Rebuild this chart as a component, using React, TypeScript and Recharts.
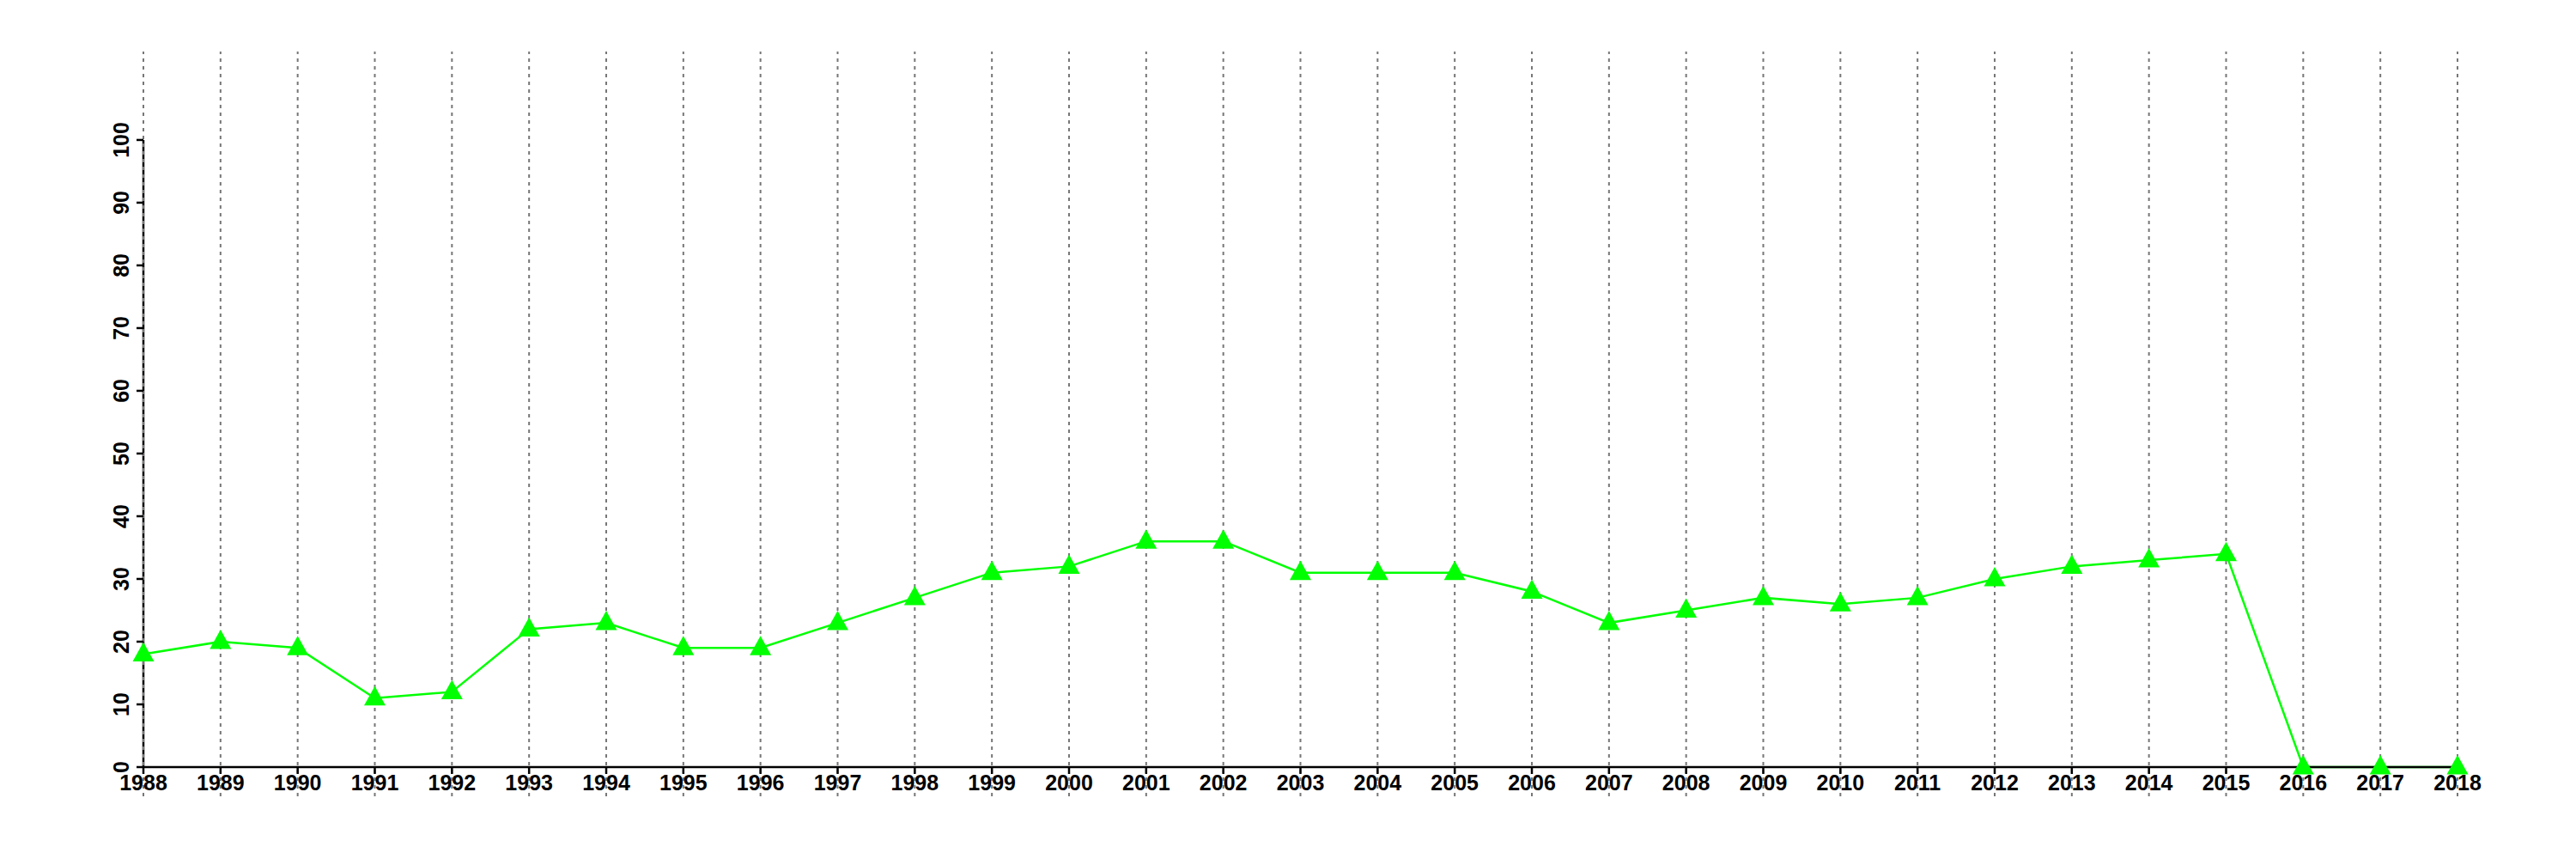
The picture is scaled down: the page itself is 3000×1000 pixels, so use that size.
import React from 'react';
import { LineChart, Line, XAxis, YAxis, ReferenceLine } from 'recharts';

const years = [
  1988, 1989, 1990, 1991, 1992, 1993, 1994, 1995, 1996, 1997, 1998, 1999, 2000, 2001, 2002, 2003,
  2004, 2005, 2006, 2007, 2008, 2009, 2010, 2011, 2012, 2013, 2014, 2015, 2016, 2017, 2018,
];
const values = [
  18, 20, 19, 11, 12, 22, 23, 19, 19, 23, 27, 31, 32, 36, 36, 31,
  31, 31, 28, 23, 25, 27, 26, 27, 30, 32, 33, 34, 0, 0, 0,
];
const yTicks = [0, 10, 20, 30, 40, 50, 60, 70, 80, 90, 100];

const data = years.map((year, i) => ({ year, value: values[i] }));

const FONT = '"Liberation Sans", Arial, sans-serif';

// filled triangle marker, like R's pch 17
const TriangleDot = (props: any) => {
  const { cx, cy } = props;
  if (cx == null || cy == null) return null;
  return (
    <polygon
      points={`${cx},${cy - 14} ${cx - 12.5},${cy + 8.5} ${cx + 12.5},${cy + 8.5}`}
      fill="#00ff00"
      stroke="none"
    />
  );
};

const XTick = (props: any) => {
  const { x, y, payload } = props;
  return (
    <text x={x} y={y} dy="0.71em" textAnchor="middle" fontFamily={FONT} fontWeight="bold" fontSize={25} fill="#000">
      {payload.value}
    </text>
  );
};

const YTick = (props: any) => {
  const { x, y, payload } = props;
  return (
    <text
      x={x}
      y={y}
      transform={`rotate(-90, ${x}, ${y})`}
      textAnchor="middle"
      fontFamily={FONT}
      fontWeight="bold"
      fontSize={25}
      fill="#000"
    >
      {payload.value}
    </text>
  );
};

export default function App() {
  return (
    <div style={{ width: 3000, height: 1000, background: '#fff' }}>
      <style>{`body{margin:0}`}</style>
      <LineChart width={3000} height={1000} data={data} margin={{ top: 60, right: 138, bottom: 67, left: 107 }}>
        <XAxis
          dataKey="year"
          type="number"
          domain={[1988, 2018]}
          ticks={years}
          interval={0}
          height={40}
          axisLine={{ stroke: '#000', strokeWidth: 2.5 }}
          tickLine={{ stroke: '#000', strokeWidth: 2.5 }}
          tickSize={8}
          tickMargin={1}
          tick={<XTick />}
        />
        <YAxis
          type="number"
          domain={[0, 114.1]}
          ticks={yTicks}
          interval={0}
          width={60}
          axisLine={false}
          tickLine={{ stroke: '#000', strokeWidth: 2.5 }}
          tickSize={8}
          tickMargin={9}
          tick={<YTick />}
        />
        <ReferenceLine
          segment={[{ x: 1988, y: 0 }, { x: 1988, y: 100 }]}
          stroke="#000"
          strokeWidth={2.5}
          ifOverflow="visible"
        />
        <Line
          dataKey="value"
          stroke="#00ff00"
          strokeWidth={2.5}
          dot={<TriangleDot />}
          activeDot={false}
          isAnimationActive={false}
        />
        {years.map((yr) => (
          <ReferenceLine
            key={yr}
            segment={[{ x: yr, y: -4.66 }, { x: yr, y: 114.1 }]}
            stroke="#777"
            strokeWidth={2}
            strokeDasharray="4 5"
            ifOverflow="visible"
          />
        ))}
      </LineChart>
    </div>
  );
}
